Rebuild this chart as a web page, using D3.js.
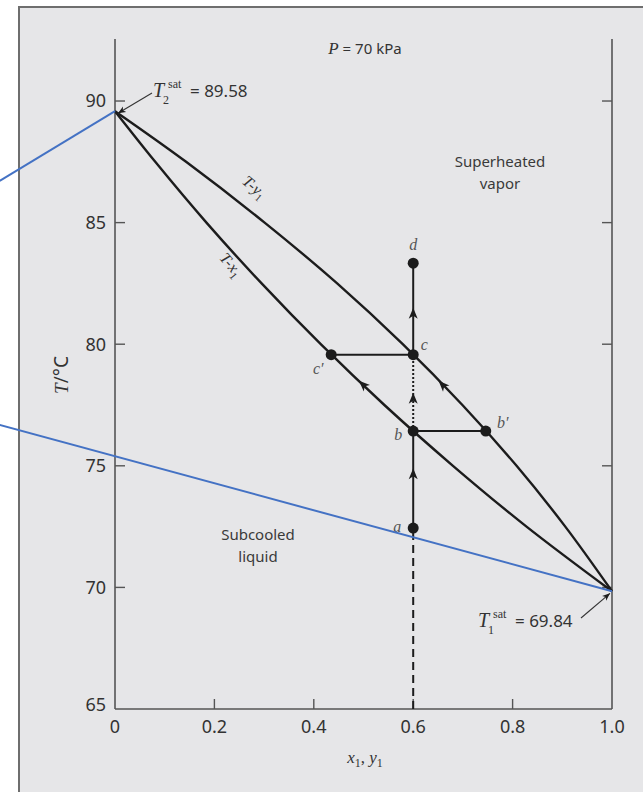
<!DOCTYPE html>
<html>
<head>
<meta charset="utf-8">
<script src="https://cdn.jsdelivr.net/npm/d3@7"></script>
<style>
  body { margin: 0; background: #fff; }
  svg text { font-family: "Noto Sans", Lato, sans-serif; fill: #333; }
  svg text.it { font-family: "Liberation Serif", "DejaVu Serif", serif; font-style: italic; }
  svg text.serif { font-family: "Liberation Serif", "DejaVu Serif", serif; }
</style>
</head>
<body>
<div id="chart"></div>
<script>
// T-x-y diagram at P = 70 kPa
var temps    = [69.84, 72.5, 75, 77.5, 80, 82.5, 85, 87.5, 89.58];
var x1Liquid = [1.0, 0.828, 0.680, 0.542, 0.414, 0.295, 0.184, 0.081, 0.0];
var y1Vapor  = [1.0, 0.906, 0.808, 0.699, 0.579, 0.447, 0.301, 0.143, 0.0];

var pointNames = ["a", "b", "b′", "c", "c′", "d"];
var pointX     = [0.6, 0.6, 0.746, 0.6, 0.435, 0.6];
var pointT     = [72.44, 76.43, 76.43, 79.57, 79.57, 83.33];

var yTicks = [65, 70, 75, 80, 85, 90];
var xTicks = [0, 0.2, 0.4, 0.6, 0.8, 1.0];
var xTickLabels = ["0", "0.2", "0.4", "0.6", "0.8", "1.0"];

// the two blue lines drawn over the figure
var blueX = [[-0.232, 0], [-0.232, 1.0]];
var blueT = [[86.72, 89.58], [76.68, 69.84]];

var svgWidth = 643;
var svgHeight = 792;

var svg = d3.select("#chart")
  .append("svg")
  .attr("width", svgWidth)
  .attr("height", svgHeight);

// grey panel
svg.append("rect")
  .attr("x", 19).attr("y", 7)
  .attr("width", 640).attr("height", 800)
  .attr("fill", "#e6e6e8")
  .attr("stroke", "#6e6e6e")
  .attr("stroke-width", 2);

var x = d3.scaleLinear().domain([0, 1]).range([115, 612]);
var y = d3.scaleLinear().domain([65, 92.55]).range([709, 39]);

var ink = "#1c1c1c";
var axisCol = "#555";

// frame: left, right, bottom
svg.append("line").attr("x1", x(0)).attr("x2", x(0)).attr("y1", y(92.55)).attr("y2", y(65))
  .attr("stroke", axisCol).attr("stroke-width", 1.6);
svg.append("line").attr("x1", x(1)).attr("x2", x(1)).attr("y1", y(92.55)).attr("y2", y(65))
  .attr("stroke", axisCol).attr("stroke-width", 1.6);
svg.append("line").attr("x1", x(0)).attr("x2", x(1)).attr("y1", y(65)).attr("y2", y(65))
  .attr("stroke", axisCol).attr("stroke-width", 1.6);

// inward ticks
var innerY = yTicks.filter(function(t) { return t > 65; });
svg.selectAll(".ytl").data(innerY).enter().append("line")
  .attr("x1", x(0)).attr("x2", x(0) + 10)
  .attr("y1", d => y(d)).attr("y2", d => y(d))
  .attr("stroke", axisCol).attr("stroke-width", 1.4);
svg.selectAll(".ytr").data(innerY).enter().append("line")
  .attr("x1", x(1)).attr("x2", x(1) - 10)
  .attr("y1", d => y(d)).attr("y2", d => y(d))
  .attr("stroke", axisCol).attr("stroke-width", 1.4);
svg.selectAll(".xt").data(xTicks.slice(1, -1)).enter().append("line")
  .attr("x1", d => x(d)).attr("x2", d => x(d))
  .attr("y1", y(65)).attr("y2", y(65) - 10)
  .attr("stroke", axisCol).attr("stroke-width", 1.4);

// tick labels
svg.selectAll(".ylab").data(yTicks).enter().append("text")
  .attr("x", x(0) - 9)
  .attr("y", d => y(d) - (d === 65 ? 4 : 0))
  .attr("dy", "0.36em")
  .attr("text-anchor", "end")
  .style("font-size", "18px")
  .text(d => d);
svg.selectAll(".xlab").data(xTicks).enter().append("text")
  .attr("x", d => x(d))
  .attr("y", y(65) + 24)
  .attr("text-anchor", "middle")
  .style("font-size", "18px")
  .text((d, i) => xTickLabels[i]);

// axis titles
var yt = svg.append("text")
  .attr("transform", "translate(68," + 375 + ") rotate(-90)")
  .attr("text-anchor", "middle")
  .style("font-size", "19px");
yt.append("tspan")
  .style("font-family", "Liberation Serif, serif").style("font-style", "italic").text("T");
yt.append("tspan").text("/°C");

var xt = svg.append("text")
  .attr("class", "it")
  .attr("x", 365).attr("y", 763)
  .attr("text-anchor", "middle")
  .style("font-size", "17px");
xt.append("tspan").text("x");
xt.append("tspan").attr("dy", 4).style("font-size", "12px").style("font-style", "normal").text("1");
xt.append("tspan").attr("dy", -4).style("font-style", "normal").text(", ");
xt.append("tspan").text("y");
xt.append("tspan").attr("dy", 4).style("font-size", "12px").style("font-style", "normal").text("1");

// pressure
var pt = svg.append("text").attr("x", 365).attr("y", 54).attr("text-anchor", "middle")
  .style("font-size", "15px");
pt.append("tspan").style("font-family", "Liberation Serif, serif").style("font-style", "italic")
  .style("font-size", "17px").text("P");
pt.append("tspan").text(" = 70 kPa");

// region labels
function block(lines, cx, cy) {
  svg.selectAll(null).data(lines).enter().append("text")
    .attr("x", cx).attr("y", (d, i) => cy + i * 22)
    .attr("text-anchor", "middle")
    .style("font-size", "15px")
    .style("fill", "#3a3a3a")
    .text(d => d);
}
block(["Superheated", "vapor"], 500, 167);
block(["Subcooled", "liquid"], 258, 540);

// curves
var liquidPts = temps.map((t, i) => [x1Liquid[i], t]);
var vaporPts = temps.map((t, i) => [y1Vapor[i], t]);
var line = d3.line().x(d => x(d[0])).y(d => y(d[1])).curve(d3.curveCatmullRom.alpha(0.5));

svg.append("path").datum(liquidPts).attr("d", line)
  .attr("fill", "none").attr("stroke", ink).attr("stroke-width", 2.4);
svg.append("path").datum(vaporPts).attr("d", line)
  .attr("fill", "none").attr("stroke", ink).attr("stroke-width", 2.4);

// curve labels
function curveLabel(letter, cx, cy, ang) {
  var t = svg.append("text").attr("class", "it")
    .attr("transform", "translate(" + cx + "," + cy + ") rotate(" + ang + ")")
    .attr("text-anchor", "middle")
    .style("font-size", "16px").style("fill", "#333");
  t.append("tspan").text("T-" + letter);
  t.append("tspan").attr("dy", 4).style("font-size", "11px").style("font-style", "normal").text("1");
}
curveLabel("y", 251, 191, 40);
curveLabel("x", 227, 268, 50);

// vertical path at x1 = 0.6
var ia = 0, ib = 1, ibp = 2, ic = 3, icp = 4, id = 5;
svg.append("line")
  .attr("x1", x(pointX[ia])).attr("x2", x(pointX[ia]))
  .attr("y1", y(65)).attr("y2", y(pointT[ia]))
  .attr("stroke", ink).attr("stroke-width", 2).attr("stroke-dasharray", "8,5");
svg.append("line")
  .attr("x1", x(pointX[ia])).attr("x2", x(pointX[ib]))
  .attr("y1", y(pointT[ia])).attr("y2", y(pointT[ib]))
  .attr("stroke", ink).attr("stroke-width", 2);
svg.append("line")
  .attr("x1", x(pointX[ib])).attr("x2", x(pointX[ic]))
  .attr("y1", y(pointT[ib])).attr("y2", y(pointT[ic]))
  .attr("stroke", ink).attr("stroke-width", 2).attr("stroke-dasharray", "2,2");
svg.append("line")
  .attr("x1", x(pointX[ic])).attr("x2", x(pointX[id]))
  .attr("y1", y(pointT[ic])).attr("y2", y(pointT[id]))
  .attr("stroke", ink).attr("stroke-width", 2);
// tie lines
svg.append("line")
  .attr("x1", x(pointX[icp])).attr("x2", x(pointX[ic]))
  .attr("y1", y(pointT[icp])).attr("y2", y(pointT[ic]))
  .attr("stroke", ink).attr("stroke-width", 2);
svg.append("line")
  .attr("x1", x(pointX[ib])).attr("x2", x(pointX[ibp]))
  .attr("y1", y(pointT[ib])).attr("y2", y(pointT[ibp]))
  .attr("stroke", ink).attr("stroke-width", 2);

// arrowheads
function arrowHead(px, py, ang, size) {
  var s = size || 1;
  svg.append("path")
    .attr("d", "M0,0 L-11,-4.5 L-8,0 L-11,4.5 Z")
    .attr("transform", "translate(" + px + "," + py + ") rotate(" + ang + ") scale(" + s + ")")
    .attr("fill", ink);
}
function xAt(arr, t) {
  var s = d3.scaleLinear().domain(temps).range(arr);
  return s(t);
}
function curveArrow(arr, t) {
  var p0 = [x(xAt(arr, t - 0.4)), y(t - 0.4)];
  var p1 = [x(xAt(arr, t + 0.4)), y(t + 0.4)];
  var ang = Math.atan2(p1[1] - p0[1], p1[0] - p0[0]) * 180 / Math.PI;
  arrowHead(x(xAt(arr, t)), y(t), ang);
}
[74.9, 78.0, 81.5].forEach(function(t) { arrowHead(x(0.6), y(t), -90); });
curveArrow(x1Liquid, 78.5);
curveArrow(y1Vapor, 78.5);

// state points
svg.selectAll(".pt").data(pointNames).enter().append("circle")
  .attr("cx", (d, i) => x(pointX[i]))
  .attr("cy", (d, i) => y(pointT[i]))
  .attr("r", 5.5)
  .attr("fill", ink);

var labelDx = [-16, -15, 17, 11, -13, 0];
var labelDy = [4, 9, -3, -5, 19, -13];
svg.selectAll(".pl").data(pointNames).enter().append("text")
  .attr("class", "it")
  .attr("x", (d, i) => x(pointX[i]) + labelDx[i])
  .attr("y", (d, i) => y(pointT[i]) + labelDy[i])
  .attr("text-anchor", "middle")
  .style("font-size", "16px")
  .style("fill", "#555")
  .text(d => d);

// saturation annotations: leader line with arrow, then T, sat, subscript, value
function satLeader(lx, ly, tx, ty) {
  svg.append("line")
    .attr("x1", lx).attr("y1", ly).attr("x2", tx).attr("y2", ty)
    .attr("stroke", "#333").attr("stroke-width", 1.1);
  var ang = Math.atan2(ty - ly, tx - lx) * 180 / Math.PI;
  arrowHead(tx, ty, ang, 0.7);
}
function satText(sub, value, bx, by) {
  svg.append("text").attr("class", "it").attr("x", bx).attr("y", by)
    .style("font-size", "20px").text("T");
  svg.append("text").attr("class", "serif").attr("x", bx + 15).attr("y", by - 9)
    .style("font-size", "12px").text("sat");
  svg.append("text").attr("class", "serif").attr("x", bx + 10).attr("y", by + 7)
    .style("font-size", "12px").text(sub);
  svg.append("text").attr("x", bx + 37).attr("y", by)
    .style("font-size", "17px").text("= " + value.toFixed(2));
}

// T2sat at x1 = 0
var t2x = x(0), t2y = y(temps[temps.length - 1]);
satLeader(152, 93, t2x + 3, t2y + 2);
satText("2", temps[temps.length - 1], 153, 97);

// T1sat at x1 = 1
var t1x = x(1), t1y = y(temps[0]);
satLeader(581, 618, t1x - 2, t1y + 2);
satText("1", temps[0], 478, 627);

// blue overlay lines
blueX.forEach(function(xs, k) {
  svg.append("line")
    .attr("x1", x(xs[0])).attr("y1", y(blueT[k][0]))
    .attr("x2", x(xs[1])).attr("y2", y(blueT[k][1]))
    .attr("stroke", "#4472c4").attr("stroke-width", 2);
});
</script>
</body>
</html>
